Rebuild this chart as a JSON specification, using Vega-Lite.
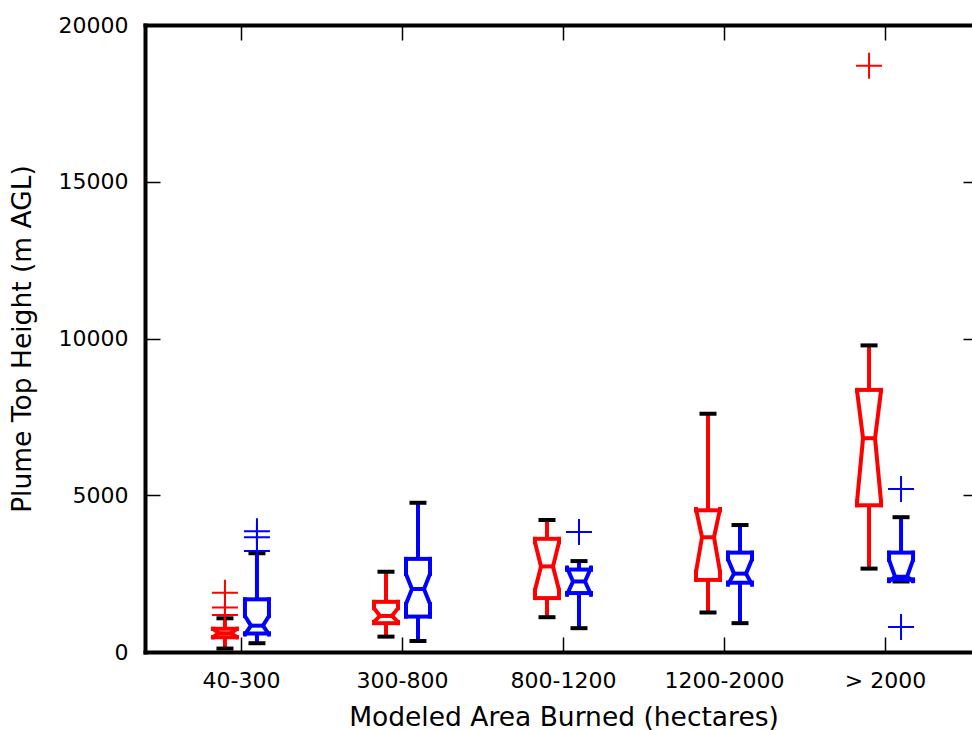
{
  "$schema": "https://vega.github.io/schema/vega-lite/v6.json",
  "width": 827,
  "height": 627,
  "autosize": {"type": "none"},
  "padding": {"left": 145, "top": 25, "right": 0, "bottom": 78},
  "datasets": {
    "stats": [
      {"cat": "40-300", "series": "A", "wlo": 110, "q1": 470, "nlo": 470, "med": 600, "nhi": 740, "q3": 740, "whi": 1075},
      {"cat": "40-300", "series": "B", "wlo": 280, "q1": 590, "nlo": 560, "med": 840, "nhi": 1150, "q3": 1680, "whi": 3150},
      {"cat": "300-800", "series": "A", "wlo": 490, "q1": 920, "nlo": 960, "med": 1150, "nhi": 1400, "q3": 1600, "whi": 2560},
      {"cat": "300-800", "series": "B", "wlo": 350, "q1": 1130, "nlo": 1530, "med": 2010, "nhi": 2490, "q3": 2970, "whi": 4760},
      {"cat": "800-1200", "series": "A", "wlo": 1110, "q1": 1720, "nlo": 1980, "med": 2730, "nhi": 3500, "q3": 3610, "whi": 4210},
      {"cat": "800-1200", "series": "B", "wlo": 760, "q1": 1880, "nlo": 1830, "med": 2250, "nhi": 2690, "q3": 2630, "whi": 2900},
      {"cat": "1200-2000", "series": "A", "wlo": 1260, "q1": 2300, "nlo": 2560, "med": 3660, "nhi": 4560, "q3": 4520, "whi": 7600},
      {"cat": "1200-2000", "series": "B", "wlo": 920, "q1": 2210, "nlo": 2150, "med": 2500, "nhi": 2960, "q3": 3170, "whi": 4050},
      {"cat": "> 2000", "series": "A", "wlo": 2660, "q1": 4680, "nlo": 4800, "med": 6820, "nhi": 8330, "q3": 8360, "whi": 9780},
      {"cat": "> 2000", "series": "B", "wlo": 2250, "q1": 2310, "nlo": 2260, "med": 2400, "nhi": 2940, "q3": 3170, "whi": 4300}
    ],
    "outliers": [
      {"cat": "40-300", "series": "A", "value": 1890},
      {"cat": "40-300", "series": "A", "value": 1420},
      {"cat": "40-300", "series": "A", "value": 1180},
      {"cat": "40-300", "series": "B", "value": 3850},
      {"cat": "40-300", "series": "B", "value": 3660},
      {"cat": "40-300", "series": "B", "value": 3220},
      {"cat": "800-1200", "series": "B", "value": 3830},
      {"cat": "> 2000", "series": "A", "value": 18700},
      {"cat": "> 2000", "series": "B", "value": 5200},
      {"cat": "> 2000", "series": "B", "value": 800}
    ]
  },
  "resolve": {"axis": {"x": "independent", "y": "independent"}},
  "layer": [
    {
      "data": {"name": "stats"},
      "layer": [
        {
          "transform": [{"filter": "datum.series === 'A'"}],
          "layer": [
            {"mark": {"type": "rule", "xOffset": -16, "strokeWidth": 4},
             "encoding": {
               "x": {"field": "cat", "type": "nominal",
                     "scale": {"type": "point", "domain": ["40-300", "300-800", "800-1200", "1200-2000", "> 2000"], "padding": 0.568, "align": 0.5246},
                     "axis": {"orient": "bottom", "title": "Modeled Area Burned (hectares)", "labelAngle": 0, "tickSize": -15, "labelPadding": 33, "titlePadding": 13, "titleX": 418.5}},
               "y": {"field": "q3", "type": "quantitative",
                     "scale": {"domain": [0, 20000], "nice": false},
                     "axis": {"orient": "left", "title": "Plume Top Height (m AGL)", "values": [0, 5000, 10000, 15000, 20000], "format": "d", "tickSize": -15, "labelPadding": 32, "titlePadding": 22}},
               "y2": {"field": "whi"},
               "color": {"field": "series", "type": "nominal", "scale": {"domain": ["A", "B"], "range": ["#ff0000", "#0000ff"]}}}},
            {"mark": {"type": "rule", "xOffset": -16, "strokeWidth": 4},
             "encoding": {"x": {"field": "cat", "type": "nominal"}, "y": {"field": "wlo", "type": "quantitative"}, "y2": {"field": "q1"}, "color": {"field": "series", "type": "nominal"}}},
            {"mark": {"type": "tick", "orient": "horizontal", "xOffset": -16, "size": 17, "thickness": 4, "color": "#000000", "opacity": 1},
             "encoding": {"x": {"field": "cat", "type": "nominal"}, "y": {"field": "whi", "type": "quantitative"}}},
            {"mark": {"type": "tick", "orient": "horizontal", "xOffset": -16, "size": 17, "thickness": 4, "color": "#000000", "opacity": 1},
             "encoding": {"x": {"field": "cat", "type": "nominal"}, "y": {"field": "wlo", "type": "quantitative"}}},
            {"mark": {"type": "tick", "orient": "horizontal", "xOffset": -16, "size": 28, "thickness": 4, "opacity": 1},
             "encoding": {"x": {"field": "cat", "type": "nominal"}, "y": {"field": "q3", "type": "quantitative"}, "color": {"field": "series", "type": "nominal"}}},
            {"mark": {"type": "tick", "orient": "horizontal", "xOffset": -16, "size": 28, "thickness": 4, "opacity": 1},
             "encoding": {"x": {"field": "cat", "type": "nominal"}, "y": {"field": "q1", "type": "quantitative"}, "color": {"field": "series", "type": "nominal"}}},
            {"mark": {"type": "tick", "orient": "horizontal", "xOffset": -16, "size": 14, "thickness": 4, "opacity": 1},
             "encoding": {"x": {"field": "cat", "type": "nominal"}, "y": {"field": "med", "type": "quantitative"}, "color": {"field": "series", "type": "nominal"}}},
            {"mark": {"type": "rule", "xOffset": -28, "strokeWidth": 4, "strokeCap": "square"},
             "encoding": {"x": {"field": "cat", "type": "nominal"}, "y": {"field": "q3", "type": "quantitative"}, "y2": {"field": "nhi"}, "color": {"field": "series", "type": "nominal"}}},
            {"mark": {"type": "rule", "xOffset": -28, "strokeWidth": 4, "strokeCap": "square"},
             "encoding": {"x": {"field": "cat", "type": "nominal"}, "y": {"field": "nlo", "type": "quantitative"}, "y2": {"field": "q1"}, "color": {"field": "series", "type": "nominal"}}},
            {"mark": {"type": "rule", "xOffset": -4, "strokeWidth": 4, "strokeCap": "square"},
             "encoding": {"x": {"field": "cat", "type": "nominal"}, "y": {"field": "q3", "type": "quantitative"}, "y2": {"field": "nhi"}, "color": {"field": "series", "type": "nominal"}}},
            {"mark": {"type": "rule", "xOffset": -4, "strokeWidth": 4, "strokeCap": "square"},
             "encoding": {"x": {"field": "cat", "type": "nominal"}, "y": {"field": "nlo", "type": "quantitative"}, "y2": {"field": "q1"}, "color": {"field": "series", "type": "nominal"}}},
            {"mark": {"type": "rule", "xOffset": -28, "x2Offset": -22, "strokeWidth": 4, "strokeCap": "round"},
             "encoding": {"x": {"field": "cat", "type": "nominal"}, "x2": {"field": "cat"}, "y": {"field": "nhi", "type": "quantitative"}, "y2": {"field": "med"}, "color": {"field": "series", "type": "nominal"}}},
            {"mark": {"type": "rule", "xOffset": -22, "x2Offset": -28, "strokeWidth": 4, "strokeCap": "round"},
             "encoding": {"x": {"field": "cat", "type": "nominal"}, "x2": {"field": "cat"}, "y": {"field": "med", "type": "quantitative"}, "y2": {"field": "nlo"}, "color": {"field": "series", "type": "nominal"}}},
            {"mark": {"type": "rule", "xOffset": -4, "x2Offset": -10, "strokeWidth": 4, "strokeCap": "round"},
             "encoding": {"x": {"field": "cat", "type": "nominal"}, "x2": {"field": "cat"}, "y": {"field": "nhi", "type": "quantitative"}, "y2": {"field": "med"}, "color": {"field": "series", "type": "nominal"}}},
            {"mark": {"type": "rule", "xOffset": -10, "x2Offset": -4, "strokeWidth": 4, "strokeCap": "round"},
             "encoding": {"x": {"field": "cat", "type": "nominal"}, "x2": {"field": "cat"}, "y": {"field": "med", "type": "quantitative"}, "y2": {"field": "nlo"}, "color": {"field": "series", "type": "nominal"}}}
          ]
        },
        {
          "transform": [{"filter": "datum.series === 'B'"}],
          "layer": [
            {"mark": {"type": "rule", "xOffset": 16, "strokeWidth": 4},
             "encoding": {"x": {"field": "cat", "type": "nominal"}, "y": {"field": "q3", "type": "quantitative"}, "y2": {"field": "whi"}, "color": {"field": "series", "type": "nominal"}}},
            {"mark": {"type": "rule", "xOffset": 16, "strokeWidth": 4},
             "encoding": {"x": {"field": "cat", "type": "nominal"}, "y": {"field": "wlo", "type": "quantitative"}, "y2": {"field": "q1"}, "color": {"field": "series", "type": "nominal"}}},
            {"mark": {"type": "tick", "orient": "horizontal", "xOffset": 16, "size": 17, "thickness": 4, "color": "#000000", "opacity": 1},
             "encoding": {"x": {"field": "cat", "type": "nominal"}, "y": {"field": "whi", "type": "quantitative"}}},
            {"mark": {"type": "tick", "orient": "horizontal", "xOffset": 16, "size": 17, "thickness": 4, "color": "#000000", "opacity": 1},
             "encoding": {"x": {"field": "cat", "type": "nominal"}, "y": {"field": "wlo", "type": "quantitative"}}},
            {"mark": {"type": "tick", "orient": "horizontal", "xOffset": 16, "size": 28, "thickness": 4, "opacity": 1},
             "encoding": {"x": {"field": "cat", "type": "nominal"}, "y": {"field": "q3", "type": "quantitative"}, "color": {"field": "series", "type": "nominal"}}},
            {"mark": {"type": "tick", "orient": "horizontal", "xOffset": 16, "size": 28, "thickness": 4, "opacity": 1},
             "encoding": {"x": {"field": "cat", "type": "nominal"}, "y": {"field": "q1", "type": "quantitative"}, "color": {"field": "series", "type": "nominal"}}},
            {"mark": {"type": "tick", "orient": "horizontal", "xOffset": 16, "size": 14, "thickness": 4, "opacity": 1},
             "encoding": {"x": {"field": "cat", "type": "nominal"}, "y": {"field": "med", "type": "quantitative"}, "color": {"field": "series", "type": "nominal"}}},
            {"mark": {"type": "rule", "xOffset": 4, "strokeWidth": 4, "strokeCap": "square"},
             "encoding": {"x": {"field": "cat", "type": "nominal"}, "y": {"field": "q3", "type": "quantitative"}, "y2": {"field": "nhi"}, "color": {"field": "series", "type": "nominal"}}},
            {"mark": {"type": "rule", "xOffset": 4, "strokeWidth": 4, "strokeCap": "square"},
             "encoding": {"x": {"field": "cat", "type": "nominal"}, "y": {"field": "nlo", "type": "quantitative"}, "y2": {"field": "q1"}, "color": {"field": "series", "type": "nominal"}}},
            {"mark": {"type": "rule", "xOffset": 28, "strokeWidth": 4, "strokeCap": "square"},
             "encoding": {"x": {"field": "cat", "type": "nominal"}, "y": {"field": "q3", "type": "quantitative"}, "y2": {"field": "nhi"}, "color": {"field": "series", "type": "nominal"}}},
            {"mark": {"type": "rule", "xOffset": 28, "strokeWidth": 4, "strokeCap": "square"},
             "encoding": {"x": {"field": "cat", "type": "nominal"}, "y": {"field": "nlo", "type": "quantitative"}, "y2": {"field": "q1"}, "color": {"field": "series", "type": "nominal"}}},
            {"mark": {"type": "rule", "xOffset": 4, "x2Offset": 10, "strokeWidth": 4, "strokeCap": "round"},
             "encoding": {"x": {"field": "cat", "type": "nominal"}, "x2": {"field": "cat"}, "y": {"field": "nhi", "type": "quantitative"}, "y2": {"field": "med"}, "color": {"field": "series", "type": "nominal"}}},
            {"mark": {"type": "rule", "xOffset": 10, "x2Offset": 4, "strokeWidth": 4, "strokeCap": "round"},
             "encoding": {"x": {"field": "cat", "type": "nominal"}, "x2": {"field": "cat"}, "y": {"field": "med", "type": "quantitative"}, "y2": {"field": "nlo"}, "color": {"field": "series", "type": "nominal"}}},
            {"mark": {"type": "rule", "xOffset": 28, "x2Offset": 22, "strokeWidth": 4, "strokeCap": "round"},
             "encoding": {"x": {"field": "cat", "type": "nominal"}, "x2": {"field": "cat"}, "y": {"field": "nhi", "type": "quantitative"}, "y2": {"field": "med"}, "color": {"field": "series", "type": "nominal"}}},
            {"mark": {"type": "rule", "xOffset": 22, "x2Offset": 28, "strokeWidth": 4, "strokeCap": "round"},
             "encoding": {"x": {"field": "cat", "type": "nominal"}, "x2": {"field": "cat"}, "y": {"field": "med", "type": "quantitative"}, "y2": {"field": "nlo"}, "color": {"field": "series", "type": "nominal"}}}
          ]
        }
      ]
    },
    {
      "data": {"name": "outliers"},
      "layer": [
        {"transform": [{"filter": "datum.series === 'A'"}],
         "mark": {"type": "point", "shape": "M-1,0L1,0M0,-1L0,1", "size": 676, "strokeWidth": 2, "filled": false, "opacity": 1, "xOffset": -16},
         "encoding": {
           "x": {"field": "cat", "type": "nominal",
                 "axis": {"orient": "top", "title": null, "labels": false, "tickSize": -15}},
           "y": {"field": "value", "type": "quantitative",
                 "axis": {"orient": "right", "title": null, "labels": false, "domain": false, "values": [0, 5000, 10000, 15000, 20000], "tickSize": -9}},
           "color": {"field": "series", "type": "nominal", "scale": {"domain": ["A", "B"], "range": ["#ff0000", "#0000ff"]}}}},
        {"transform": [{"filter": "datum.series === 'B'"}],
         "mark": {"type": "point", "shape": "M-1,0L1,0M0,-1L0,1", "size": 676, "strokeWidth": 2, "filled": false, "opacity": 1, "xOffset": 16},
         "encoding": {
           "x": {"field": "cat", "type": "nominal"},
           "y": {"field": "value", "type": "quantitative"},
           "color": {"field": "series", "type": "nominal"}}}
      ]
    }
  ],
  "config": {
    "view": {"stroke": null},
    "font": "DejaVu Sans",
    "legend": {"disable": true},
    "axis": {
      "grid": false,
      "domainColor": "#000000",
      "domainWidth": 4,
      "domainCap": "square",
      "tickColor": "#000000",
      "tickWidth": 1.5,
      "labelColor": "#000000",
      "titleColor": "#000000",
      "labelFont": "DejaVu Sans",
      "titleFont": "DejaVu Sans",
      "labelFontSize": 22,
      "titleFontSize": 26.5,
      "titleFontWeight": "normal"
    }
  }
}
